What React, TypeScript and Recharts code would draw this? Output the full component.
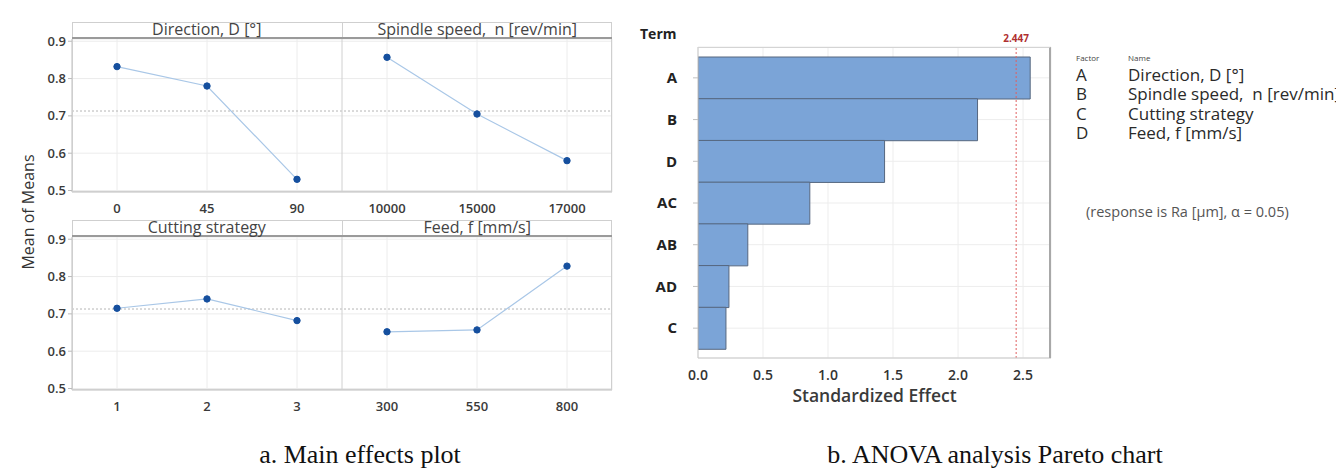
import React from 'react';
import {
  LineChart, Line, BarChart, Bar, XAxis, YAxis, CartesianGrid, ReferenceLine
} from 'recharts';

// main effects: level labels + mean of means per factor
const directionLevels = ['0', '45', '90'];
const directionMeans = [0.832, 0.78, 0.53];
const spindleLevels = ['10000', '15000', '17000'];
const spindleMeans = [0.857, 0.705, 0.58];
const strategyLevels = ['1', '2', '3'];
const strategyMeans = [0.715, 0.74, 0.682];
const feedLevels = ['300', '550', '800'];
const feedMeans = [0.652, 0.657, 0.828];
const grandMean = 0.713;
const meanTicks = [0.5, 0.6, 0.7, 0.8, 0.9];

// pareto of standardized effects
const paretoTerms = ['A', 'B', 'D', 'AC', 'AB', 'AD', 'C'];
const paretoEffects = [2.555, 2.15, 1.435, 0.86, 0.383, 0.238, 0.215];
const criticalEffect = 2.447;
const effectTicks = [0, 0.5, 1, 1.5, 2, 2.5];

const factorCodes = ['A', 'B', 'C', 'D'];
const factorNames = ['Direction, D [°]', 'Spindle speed,  n [rev/min]', 'Cutting strategy', 'Feed, f [mm/s]'];

const UI_FONT = '"Open Sans", "Noto Sans", sans-serif';
const SERIF = '"Liberation Serif", "Times New Roman", serif';

type Row = { x: number; left?: number | null; right?: number | null };

const buildRow = (leftMeans: number[], rightMeans: number[]): Row[] => [
  ...leftMeans.map((v, i) => ({ x: i, left: v, right: null })),
  ...rightMeans.map((v, i) => ({ x: i + 3, left: null, right: v })),
];

const paretoData = paretoTerms.map((t, i) => ({ term: t, effect: paretoEffects[i] }));

const PLOT_LEFT = 72;
const PLOT_W = 540;
const PLOT_H = 153;
const STRIP_H = 17;

const tickStyle = { fontSize: 13, fontWeight: 600, fill: '#3a3a3a', fontFamily: UI_FONT };

function EffectsRow({ top, leftTitle, rightTitle, leftLevels, rightLevels, leftMeans, rightMeans }: {
  top: number; leftTitle: string; rightTitle: string;
  leftLevels: string[]; rightLevels: string[]; leftMeans: number[]; rightMeans: number[];
}) {
  const labels = [...leftLevels, ...rightLevels];
  const data = buildRow(leftMeans, rightMeans);
  const stripTop = top - STRIP_H;
  return (
    <>
      <div style={{ position: 'absolute', left: 0, top: 0 }}>
        <LineChart
          width={PLOT_LEFT + PLOT_W + 8}
          height={top + PLOT_H + 32}
          data={data}
          margin={{ top, right: 8, bottom: 0, left: PLOT_LEFT - 40 }}
        >
          <CartesianGrid stroke="#ececec" />
          <XAxis
            type="number"
            dataKey="x"
            domain={[-0.5, 5.5]}
            ticks={[0, 1, 2, 3, 4, 5]}
            tickFormatter={(i: number) => labels[i] ?? ''}
            tick={tickStyle}
            tickLine={false}
            axisLine={{ stroke: '#c8c8c8' }}
            tickMargin={6}
            height={32}
          />
          <YAxis
            type="number"
            domain={[0.496, 0.906]}
            ticks={meanTicks}
            tickFormatter={(v: number) => v.toFixed(1)}
            tick={tickStyle}
            tickSize={4}
            tickLine={{ stroke: '#bbb' }}
            axisLine={{ stroke: '#c8c8c8' }}
            allowDataOverflow
            width={40}
          />
          <ReferenceLine y={grandMean} stroke="#b5b5b5" strokeDasharray="2 2" />
          <ReferenceLine x={2.5} stroke="#d0d0d0" />
          <Line
            dataKey="left"
            stroke="#a9c7e7"
            strokeWidth={1.2}
            dot={{ r: 3.2, fill: '#154f9e', stroke: '#154f9e', strokeWidth: 1 }}
            isAnimationActive={false}
          />
          <Line
            dataKey="right"
            stroke="#a9c7e7"
            strokeWidth={1.2}
            dot={{ r: 3.2, fill: '#154f9e', stroke: '#154f9e', strokeWidth: 1 }}
            isAnimationActive={false}
          />
        </LineChart>
      </div>
      {/* panel frame + strip headers */}
      <div style={{
        position: 'absolute', left: PLOT_LEFT, top: stripTop, width: PLOT_W, height: PLOT_H + STRIP_H,
        border: '1px solid #cfcfcf', boxSizing: 'border-box', pointerEvents: 'none'
      }} />
      <div style={{
        position: 'absolute', left: PLOT_LEFT, top: stripTop, width: PLOT_W, height: STRIP_H,
        borderBottom: '2px solid #9a9a9a', boxSizing: 'border-box', display: 'flex',
        fontFamily: UI_FONT, fontSize: 16, color: '#444', lineHeight: `${STRIP_H - 2}px`
      }}>
        <div style={{ width: PLOT_W / 2, textAlign: 'center', borderRight: '1px solid #d0d0d0', whiteSpace: 'pre' }}>{leftTitle}</div>
        <div style={{ width: PLOT_W / 2, textAlign: 'center', whiteSpace: 'pre' }}>{rightTitle}</div>
      </div>
    </>
  );
}

function ParetoChart() {
  return (
    <>
      <div style={{ position: 'absolute', left: 600, top: 0 }}>
        <BarChart
          width={460}
          height={400}
          data={paretoData}
          layout="vertical"
          barCategoryGap={0}
          margin={{ top: 47, right: 9, bottom: 0, left: 58 }}
        >
          <CartesianGrid stroke="#ededed" />
          <XAxis
            type="number"
            domain={[0, 2.715]}
            ticks={effectTicks}
            tickFormatter={(v: number) => v.toFixed(1)}
            tick={{ ...tickStyle, fontSize: 14, fill: '#333' }}
            tickLine={false}
            axisLine={{ stroke: '#c8c8c8' }}
            allowDataOverflow
            tickMargin={6}
            height={42}
          />
          <YAxis
            type="category"
            dataKey="term"
            width={40}
            padding={{ top: 10, bottom: 9 }}
            tick={{ fontSize: 15, fontWeight: 700, fill: '#222', fontFamily: UI_FONT }}
            tickSize={5}
            tickMargin={16}
            tickLine={{ stroke: '#c0c0c0' }}
            axisLine={{ stroke: '#c8c8c8' }}
          />
          <Bar
            dataKey="effect"
            fill="#7ba4d7"
            stroke="#56677f"
            strokeWidth={1}
            isAnimationActive={false}
          />
          <ReferenceLine
            x={criticalEffect}
            stroke="#e06060"
            strokeDasharray="2 2"
            label={{ value: String(criticalEffect), position: 'top', fill: '#b03030', fontSize: 10, fontWeight: 700, fontFamily: UI_FONT }}
          />
        </BarChart>
      </div>
      <div style={{
        position: 'absolute', left: 698, top: 47, width: 353, height: 311,
        borderTop: '1px solid #d4d4d4', borderRight: '2px solid #a8a8a8', boxSizing: 'border-box', pointerEvents: 'none'
      }} />
      <div style={{ position: 'absolute', left: 640, top: 24, fontFamily: UI_FONT, fontSize: 14, fontWeight: 700, color: '#222' }}>Term</div>
      <div style={{ position: 'absolute', left: 698, width: 353, top: 383, textAlign: 'center', fontFamily: UI_FONT, fontSize: 17.5, fontWeight: 600, color: '#3a3a3a' }}>Standardized Effect</div>
    </>
  );
}

function FactorLegend() {
  return (
    <div style={{ position: 'absolute', left: 1076, top: 52, fontFamily: UI_FONT, color: '#2a2a2a', whiteSpace: 'pre' }}>
      <div style={{ display: 'flex', fontSize: 8, color: '#444', height: 13, lineHeight: '12px' }}>
        <div style={{ width: 52 }}>Factor</div>
        <div>Name</div>
      </div>
      {factorCodes.map((c, i) => (
        <div key={c} style={{ display: 'flex', fontSize: 17, lineHeight: '19.3px', height: 19.3, fontWeight: 500 }}>
          <div style={{ width: 52 }}>{c}</div>
          <div>{factorNames[i]}</div>
        </div>
      ))}
      <div style={{ position: 'absolute', left: 10, top: 150, fontSize: 14.5, color: '#555' }}>(response is Ra [µm], α = 0.05)</div>
    </div>
  );
}

export default function App() {
  return (
    <div style={{ position: 'absolute', left: 0, top: 0, width: 1336, height: 473, overflow: 'hidden', background: '#fff' }}>
      <EffectsRow
        top={39}
        leftTitle={factorNames[0]}
        rightTitle={factorNames[1]}
        leftLevels={directionLevels}
        rightLevels={spindleLevels}
        leftMeans={directionMeans}
        rightMeans={spindleMeans}
      />
      <EffectsRow
        top={237}
        leftTitle={factorNames[2]}
        rightTitle={factorNames[3]}
        leftLevels={strategyLevels}
        rightLevels={feedLevels}
        leftMeans={strategyMeans}
        rightMeans={feedMeans}
      />
      <div style={{
        position: 'absolute', left: 28, top: 212, transform: 'translate(-50%, -50%) rotate(-90deg)',
        fontFamily: UI_FONT, fontSize: 16, color: '#333', whiteSpace: 'nowrap'
      }}>Mean of Means</div>
      <ParetoChart />
      <FactorLegend />
      <div style={{ position: 'absolute', left: 360, top: 455, transform: 'translate(-50%, -50%)', fontFamily: SERIF, fontSize: 26, color: '#111', whiteSpace: 'nowrap' }}>a. Main effects plot</div>
      <div style={{ position: 'absolute', left: 995, top: 455, transform: 'translate(-50%, -50%)', fontFamily: SERIF, fontSize: 26, color: '#111', whiteSpace: 'nowrap' }}>b. ANOVA analysis Pareto chart</div>
    </div>
  );
}
